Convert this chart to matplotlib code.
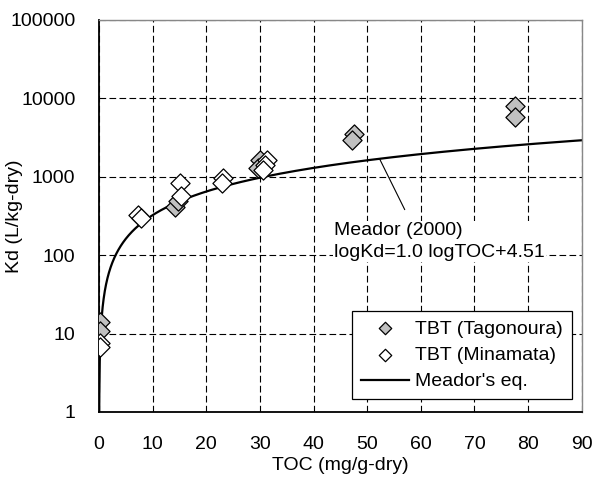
import numpy as np
import matplotlib
matplotlib.use('Agg')
import matplotlib.pyplot as plt

plt.rcParams['font.family'] = ['Liberation Sans', 'DejaVu Sans']

# TBT (Tagonoura) - TOC (mg/g-dry), Kd (L/kg-dry)
tago_toc = [0.1, 0.1, 14.2, 14.8, 30.0, 29.7, 47.5, 47.2, 77.6, 77.6]
tago_kd = [14.2, 10.8, 410, 490, 1630, 1290, 3500, 2900, 8000, 5800]

# TBT (Minamata)
mina_toc = [0.1, 0.1, 7.3, 7.8, 15.1, 15.2, 23.1, 22.9, 31.3, 30.9, 30.6]
mina_kd = [7.5, 6.8, 320, 300, 830, 560, 950, 830, 1630, 1400, 1230]

# Meador (2000): logKd = 1.0 logTOC + 4.51  (TOC as g/g)
meador_slope = 1.0
meador_intercept = 4.51

x_ticks = [0, 10, 20, 30, 40, 50, 60, 70, 80, 90]
y_ticks = [1, 10, 100, 1000, 10000, 100000]
y_ticklabels = ['1', '10', '100', '1000', '10000', '100000']

fig = plt.figure(figsize=(5.93, 4.83), dpi=100)
ax = fig.add_axes([0.167, 0.147, 0.814, 0.812])

toc_line = np.linspace(0.001, 90, 2000)
kd_line = 10 ** (meador_slope * np.log10(toc_line / 1000.0) + meador_intercept)
ax.plot(toc_line, kd_line, color='black', lw=1.6, label="Meador's eq.", zorder=2)

ax.scatter(tago_toc, tago_kd, marker='D', s=95, facecolor='#c0c0c0',
           edgecolor='black', linewidth=0.9, label='TBT (Tagonoura)', zorder=3)
ax.scatter(mina_toc, mina_kd, marker='D', s=95, facecolor='white',
           edgecolor='black', linewidth=0.9, label='TBT (Minamata)', zorder=3)

ax.set_yscale('log')
ax.set_xlim(0, 90)
ax.set_ylim(1, 100000)
ax.set_xticks(x_ticks)
ax.set_yticks(y_ticks)
ax.set_yticklabels(y_ticklabels)
ax.minorticks_off()
ax.tick_params(length=0, labelsize=14, pad=17)

ax.grid(True, color='black', linestyle=(0, (6, 3)), linewidth=0.8)
ax.set_axisbelow(True)
for s in ['left', 'bottom']:
    ax.spines[s].set_color('black')
    ax.spines[s].set_linewidth(1.3)
for s in ['right', 'top']:
    ax.spines[s].set_color('#888888')
    ax.spines[s].set_linewidth(1.0)

ax.set_xlabel('TOC (mg/g-dry)', fontsize=14)
ax.xaxis.set_label_coords(0.5, -0.115)
ax.set_ylabel('Kd (L/kg-dry)', fontsize=14)
ax.yaxis.set_label_coords(-0.158, 0.5)

# annotation for the equation
x_ann = 52.3
y_ann = 10 ** (meador_slope * np.log10(x_ann / 1000.0) + meador_intercept)
ax.annotate('', xy=(x_ann, y_ann), xytext=(57, 380),
            arrowprops=dict(arrowstyle='-', color='black', lw=0.8,
                            shrinkA=0, shrinkB=0))
ax.text(43.8, 148, 'Meador (2000)\nlogKd=1.0 logTOC+4.51', fontsize=14,
        ha='left', va='center', linespacing=1.35,
        bbox=dict(facecolor='white', edgecolor='none', pad=1))

handles, labels = ax.get_legend_handles_labels()
order = [1, 2, 0]
leg = ax.legend([handles[i] for i in order], [labels[i] for i in order],
                loc='lower right', bbox_to_anchor=(0.979, 0.033), borderaxespad=0,
                fontsize=14, fancybox=False, edgecolor='black', framealpha=1,
                markerscale=0.65, handlelength=2.5, handletextpad=0.3,
                borderpad=0.45, labelspacing=0.45)
leg.get_frame().set_linewidth(0.9)

fig.savefig('out.png', dpi=100, facecolor='white')
